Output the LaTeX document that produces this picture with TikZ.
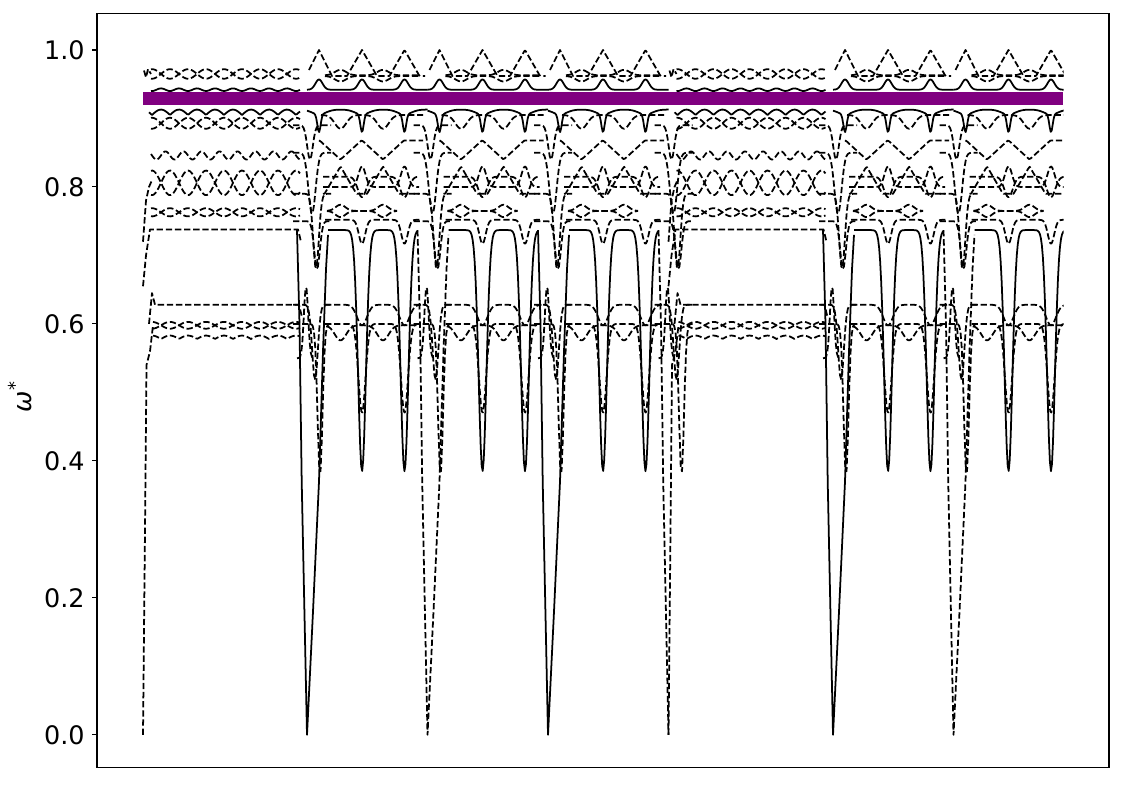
\documentclass[tikz,border=0pt]{standalone}
\usepackage{fontspec}
\setmainfont{DejaVu Sans}
\usetikzlibrary{positioning}
\definecolor{flatpurple}{HTML}{800080}
\tikzset{
  % every branch of the spectrum
  band/.style={black, line width=1pt, line join=round},
  bandd/.style={band, dash pattern=on 3.6pt off 1.6pt},
  % the flat band drawn on top
  flat/.style={flatpurple, line width=7.4pt},
  % axis texts
  ticklab/.style={anchor=east, inner sep=0pt, font=\fontsize{14.5}{17}\selectfont},
  declare function={g(\x,\m,\w)=exp(-min(abs((\x-\m)/\w)^2,20));
    tri(\x,\m,\w)=max(0,1-abs(\x-\m)/\w);},
}

\begin{document}
\begin{tikzpicture}[x=0.02cm, y=13.7cm]
\useasboundingbox (0,-0.073) rectangle (1125,1.073);

\begin{scope}
\clip (140,-0.06) rectangle (1063.5,1.05);
% gap regions
\foreach \a in {143,668.5}{
  \draw[bandd] plot[domain=\a+8:\a+157, samples=100] (\x,{0.965+0.007*sin(10*(\x-\a))});
  \draw[bandd] plot[domain=\a+8:\a+157, samples=100] (\x,{0.965-0.007*sin(10*(\x-\a))});
  \draw[band] plot[domain=\a+8:\a+157, samples=60] (\x,{0.942+0.002*cos(20*(\x-\a))});
  \draw[band] plot[domain=\a+6:\a+157, samples=100] (\x,{0.905+0.008*abs(cos(10*(\x-\a)))});
  \draw[bandd] plot[domain=\a+8:\a+157, samples=100] (\x,{0.893+0.008*sin(10*(\x-\a))});
  \draw[bandd] plot[domain=\a+8:\a+157, samples=100] (\x,{0.893-0.008*sin(10*(\x-\a))});
  \draw[bandd] plot[domain=\a+8:\a+157, samples=100] (\x,{0.846+0.006*sin(20*(\x-\a))});
  \draw[bandd] plot[domain=\a+8:\a+157, samples=100] (\x,{0.806+0.018*sin(10*(\x-\a))});
  \draw[bandd] plot[domain=\a+8:\a+157, samples=100] (\x,{0.806-0.018*sin(10*(\x-\a))});
  \draw[bandd] plot[domain=\a+8:\a+157, samples=100] (\x,{0.763+0.006*sin(10*(\x-\a))});
  \draw[bandd] plot[domain=\a+8:\a+157, samples=100] (\x,{0.763-0.006*sin(10*(\x-\a))});
  \draw[bandd] (\a,0.655) -- (\a+3,0.7) -- (\a+7,0.738) -- (\a+155,0.738) -- (\a+158,0.72);
  \draw[bandd] (\a+6,0.6) -- (\a+9,0.645) -- (\a+12,0.628) -- (\a+156,0.628) -- (\a+159,0.61);
  \draw[bandd] plot[domain=\a+10:\a+157, samples=100] (\x,{0.598+0.005*sin(10*(\x-\a))});
  \draw[bandd] plot[domain=\a+10:\a+157, samples=100] (\x,{0.598-0.005*sin(10*(\x-\a))});
  \draw[bandd] plot[domain=\a+10:\a+157, samples=100] (\x,{0.578+0.005*abs(sin(10*(\x-\a)))});
  \draw[bandd] (\a,0) -- (\a+2,0.3) -- (\a+3.5,0.54) -- (\a+7,0.56) -- (\a+10,0.598);
  \draw[bandd] (\a,0.72) -- (\a+3,0.78) -- (\a+6,0.80) -- (\a+9,0.81);
  \draw[bandd] (\a+1,0.97) -- (\a+3,0.96) -- (\a+5,0.972) -- (\a+8,0.965);
}

% periodic cells
\foreach \s in {307,427.5,548,833,953.5}{
  \draw[bandd] plot[domain=\s+2:\s+118, samples=117] (\x,{0.962+0.038*(tri(\x-\s,12,13)+tri(\x-\s,55,15)+tri(\x-\s,97.5,15))});
  \draw[bandd] plot[domain=\s+18:\s+114, samples=60] (\x,{0.963+0.008*(g(\x-\s,33.5,8)+g(\x-\s,76,8))});
  \draw[bandd] plot[domain=\s+18:\s+114, samples=60] (\x,{0.962-0.008*(g(\x-\s,33.5,8)+g(\x-\s,76,8))});
  \draw[band] plot[domain=\s:\s+120.5, samples=100] (\x,{0.942+0.015*(g(\x-\s,12,5)+g(\x-\s,55,5)+g(\x-\s,97.5,5))});
  \draw[band] plot[domain=\s:\s+120.5, samples=120] (\x,{0.913-0.007*(g(\x-\s,12,10)+g(\x-\s,55,10)+g(\x-\s,97.5,10))-0.026*(g(\x-\s,12,2.3)+g(\x-\s,55,2.3)+g(\x-\s,97.5,2.3))});
  \draw[bandd] plot[domain=\s+14:\s+116, samples=60] (\x,{0.905-0.02*(g(\x-\s,33.5,8)+g(\x-\s,76,8))});
  \draw[bandd] plot[domain=\s+12:\s+116, samples=60] (\x,{0.868-0.028*(tri(\x-\s,33.5,21)+tri(\x-\s,76,21))});
  \draw[bandd] plot[domain=\s+16:\s+112, samples=60] (\x,{0.79+0.04*(tri(\x-\s,33.5,16)+tri(\x-\s,76,16))});
  \draw[bandd] plot[domain=\s+16:\s+112, samples=80] (\x,{0.80+0.03*(g(\x-\s,55,5)+g(\x-\s,97.5,5))});
  \draw[bandd] plot[domain=\s+16:\s+112, samples=80] (\x,{0.815-0.03*(g(\x-\s,55,6)+g(\x-\s,97.5,6))});
  \draw[bandd] plot[domain=\s+20:\s+90, samples=70] (\x,{0.765+0.009*(g(\x-\s,33.5,7)+g(\x-\s,76,7))});
  \draw[bandd] plot[domain=\s+20:\s+90, samples=70] (\x,{0.765-0.009*(g(\x-\s,33.5,7)+g(\x-\s,76,7))});
  \draw[bandd] plot[domain=\s+18:\s+114, samples=96] (\x,{0.752-0.035*(g(\x-\s,55,4.5)+g(\x-\s,97.5,4.5))});
  \draw[band] plot[domain=\s+21:\s+110.5, samples=90] (\x,{0.737-0.352*(g(\x-\s,55,5.5)+g(\x-\s,97.5,5.5))});
  \draw[bandd] plot[domain=\s+18:\s+114, samples=96] (\x,{0.628-0.03*(g(\x-\s,55,7)+g(\x-\s,97.5,7))});
  \draw[bandd] plot[domain=\s+18:\s+114, samples=96] (\x,{0.6-0.13*(g(\x-\s,55,5)+g(\x-\s,97.5,5))});
  \draw[bandd] plot[domain=\s+20:\s+112, samples=92] (\x,{0.598-0.022*(g(\x-\s,33.5,8)+g(\x-\s,76,8))});
}

% spikes down to zero
\foreach \p in {307,548,833}
  \draw[band] (\p-10,0.737) -- (\p-7.5,0.6) -- (\p-5.3,0.37) -- (\p,0) -- (\p+6,0.18) -- (\p+12,0.37)
    -- (\p+16,0.56) -- (\p+19,0.68) -- (\p+21,0.73);
\foreach \p in {427.5,953.5}
  \draw[bandd] (\p-10,0.737) -- (\p-7.5,0.6) -- (\p-5.3,0.37) -- (\p,0) -- (\p+6,0.18) -- (\p+12,0.37)
    -- (\p+16,0.56) -- (\p+19,0.68) -- (\p+21,0.73);
\draw[bandd] (658.5,0.737) -- (661,0.6) -- (663.2,0.37) -- (668.5,0);

% crossings round the spikes
\foreach \p in {307,427.5,548,668.5,833,953.5}{
  \draw[bandd] plot[domain=\p-14:\p+24, samples=30] (\x,{0.75-0.07*g(\x-\p,10,4)});
  \draw[bandd] plot[domain=\p-14:\p+24, samples=30] (\x,{0.628-0.11*g(\x-\p,8,4)});
  \draw[bandd] plot[domain=\p-14:\p+24, samples=30] (\x,{0.6-0.22*g(\x-\p,13,3.5)});
  \draw[bandd] plot[domain=\p-14:\p+24, samples=30] (\x,{0.79-0.11*g(\x-\p,9,4)});
  \draw[bandd] plot[domain=\p-14:\p+24, samples=30] (\x,{0.85-0.09*g(\x-\p,5,5)});
  \draw[bandd] plot[domain=\p-14:\p+24, samples=30] (\x,{0.89-0.05*g(\x-\p,3,4)});
  \draw[bandd] plot[domain=\p-10:\p+6, samples=16] (\x,{0.55+0.105*g(\x-\p,-1,3)});
}
\end{scope}

% flat band
\draw[flat] (143,0.929) -- (1063,0.929);

% axes
\draw[line width=0.6pt] (97,-0.0482) rectangle (1109,1.0526);
\foreach \v [count=\i] in {0.0,0.2,0.4,0.6,0.8,1.0}{
  \draw[line width=0.6pt] (97,\v) -- (92,\v);
  \node[ticklab] (tick\i) at (85,\v) {\v};
}
\node[rotate=90, inner sep=0pt, font=\fontsize{14.5}{17}\selectfont] (ylab) at (20,0.494) {\textit{ω}\textsuperscript{*}};
\end{tikzpicture}
\end{document}
